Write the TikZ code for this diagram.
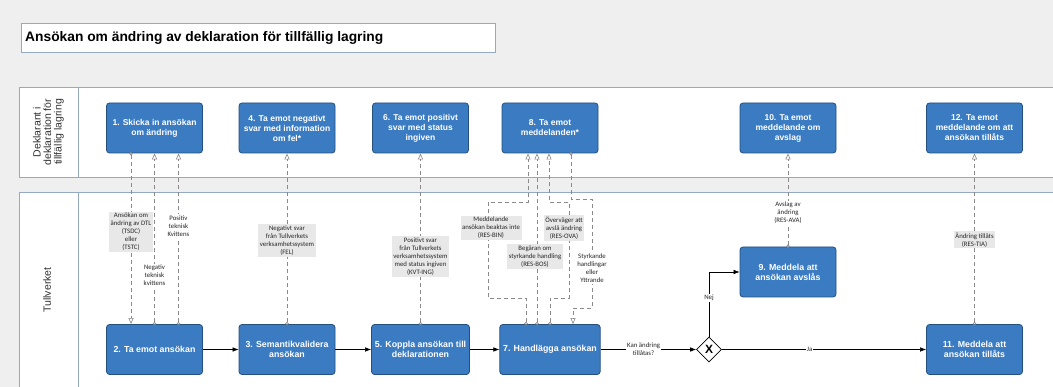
\documentclass[tikz,border=0pt]{standalone}
\usepackage{fontspec}
\setmainfont{Liberation Sans}
\newfontfamily\calfont{Carlito}
\usepackage{tikz}
\usetikzlibrary{positioning}
\usetikzlibrary{shapes.geometric}
\usetikzlibrary{arrows.meta}
\usetikzlibrary{calc}

\definecolor{bggrey}{HTML}{EFEFEF}
\definecolor{laneline}{HTML}{93A9C4}
\definecolor{taskblue}{HTML}{3A7BC2}
\definecolor{taskedge}{HTML}{24507F}
\definecolor{labgrey}{HTML}{E8E8E8}
\definecolor{msggrey}{HTML}{8A8A8A}

\begin{document}
\begin{tikzpicture}[x=1pt, y=-1pt,
  task/.style={draw=taskedge, line width=0.8pt, fill=taskblue, rounded corners=3pt, minimum width=96pt, minimum height=50pt, align=center, text=white, font=\fontsize{8.5}{10}\selectfont\bfseries},
  bigtask/.style={task, font=\fontsize{8.8}{10}\selectfont\bfseries},
  msg/.style={draw=msggrey, dash pattern=on 4pt off 3pt, line width=0.6pt, shorten <=-1.5pt, {Circle[open,length=3.5pt]}-{Triangle[open,length=6pt,width=5pt]}},
  msglabel/.style={fill=labgrey, align=center, inner sep=1.5pt, text=black!85, font=\calfont\fontsize{6.8}{8}\selectfont},
  msglabelw/.style={msglabel, fill=white},
  flow/.style={draw=black, line width=0.6pt, -{Latex[length=6pt,width=4.5pt]}},
  flowlabel/.style={fill=white, align=center, inner sep=1pt, text=black!85, font=\calfont\fontsize{6.8}{8}\selectfont}]

\useasboundingbox (0,0) rectangle (1053,387);
\clip (0,0) rectangle (1053,387);
\fill[bggrey] (0,0) rectangle (1053,387);

\draw[laneline, fill=white] (21,23) rectangle (495,52);
\node[anchor=west, inner sep=0pt, font=\fontsize{13.8}{16}\selectfont\bfseries] (title) at (25,37.5) {Ansökan om ändring av deklaration för tillfällig lagring};

\draw[laneline, fill=white] (19,87) rectangle (1070,177);
\draw[laneline] (78,87) -- (78,177);
\draw[laneline, fill=white] (19,192) rectangle (1070,400);
\draw[laneline] (78,192) -- (78,400);
\node[rotate=90, align=center, text=black!80, font=\fontsize{10.5}{10.5}\selectfont] (declarant) at (48.5,132) {Deklarant i\\deklaration för\\tillfällig lagring};
\node[rotate=90, text=black!80, font=\fontsize{10.5}{10.5}\selectfont] (tullverket) at (47,290) {Tullverket};

\node[task] (n1) at (154.5,128) {1. Skicka in ansökan\\om ändring};
\node[task] (n4) at (287,128) {4. Ta emot negativt\\svar med information\\om fel*};
\node[task] (n6) at (420.5,128) {6. Ta emot positivt\\svar med status\\ingiven};
\node[task] (n8) at (550,128) {8. Ta emot\\meddelanden*};
\node[task] (n10) at (788,128) {10. Ta emot\\meddelande om\\avslag};
\node[task] (n12) at (974.5,128) {12. Ta emot\\meddelande om att\\ansökan tillåts};

\node[bigtask] (n2) at (154.5,349.5) {2. Ta emot ansökan};
\node[bigtask] (n3) at (287,349.5) {3. Semantikvalidera\\ansökan};
\node[bigtask] (n5) at (420.5,349.5) {5. Koppla ansökan till\\deklarationen};
\node[bigtask] (n7) at (550,349.5) {7. Handlägga ansökan};
\node[bigtask] (n9) at (788,272) {9. Meddela att\\ansökan avslås};
\node[bigtask] (n11) at (974.5,349.5) {11. Meddela att\\ansökan tillåts};
\node[diamond, draw, fill=white, line width=0.6pt, minimum width=25pt, minimum height=25pt, inner sep=0pt, font=\fontsize{12}{12}\selectfont\bfseries] (gw) at (709,349.5) {X};

\draw[flow] (n2) -- (n3);
\draw[flow] (n3) -- (n5);
\draw[flow] (n5) -- (n7);
\draw[flow] (n7) -- node[flowlabel, pos=0.45] {Kan ändring\\tillåtas?} (gw);
\draw[flow] (gw.north) |- node[flowlabel, pos=0.3] {Nej} (n9.west);
\draw[flow] (gw) -- node[flowlabel, pos=0.43] {Ja} (n11);

\draw[msg] ($(n1.south)+(-23.5,0)$) -- node[msglabel, pos=0.46] {Ansökan om\\ändring av DTL\\(TSDC)\\eller\\(TSTC)} ($(n2.north)+(-23.5,0)$);
\draw[msg] (n2.north) -- node[msglabelw, pos=0.285] {Negativ\\teknisk\\kvittens} (n1.south);
\draw[msg] ($(n2.north)+(24,0)$) -- node[msglabelw, pos=0.576] {Positiv\\teknisk\\Kvittens} ($(n1.south)+(24,0)$);
\draw[msg] (n3.north) -- node[msglabel, pos=0.488] {Negativt svar\\från Tullverkets\\verksamhetssystem\\(FEL)} (n4.south);
\draw[msg] (n5.north) -- node[msglabel, pos=0.395] {Positivt svar\\från Tullverkets\\verksamhetssystem\\med status ingiven\\(KVT-ING)} (n6.south);

\draw[msg] ($(n7.north)+(-24,0)$) -- ++(0,-26) -- ++(-38,0) -- node[msglabel, pos=0.73, xshift=3pt] {Meddelande\\ansökan beaktas inte\\(RES-BIN)} ++(0,-96) -- ++(40,0) -- ($(n8.south)+(-22,0)$);
\draw[msg] ($(n7.north)+(-13,0)$) -- node[msglabel, pos=0.395, xshift=-2pt] {Begäran om\\styrkande handling\\(RES-BOS)} ($(n8.south)+(-13,0)$);
\draw[msg] (n7.north) -- ++(0,-26) -- ++(19,0) -- node[msglabel, pos=0.73, xshift=-5pt] {Överväger att\\avslå ändring\\(RES-OVA)} ++(0,-96) -- ++(-20,0) -- ($(n8.south)+(-1,0)$);
\draw[msg] ($(n8.south)+(21,0)$) -- ++(0,46) -- ++(21,0) -- node[msglabelw, pos=0.63] {Styrkande\\handlingar\\eller\\Yttrande} ++(0,109) -- ++(-19,0) -- ($(n7.north)+(23,0)$);

\draw[msg] (n9.north) -- node[msglabelw, pos=0.36] {Avslag av\\ändring\\(RES-AVA)} (n10.south);
\draw[msg] (n11.north) -- node[msglabel, pos=0.494] {Ändring tillåts\\(RES-TIA)} (n12.south);
\end{tikzpicture}
\end{document}
